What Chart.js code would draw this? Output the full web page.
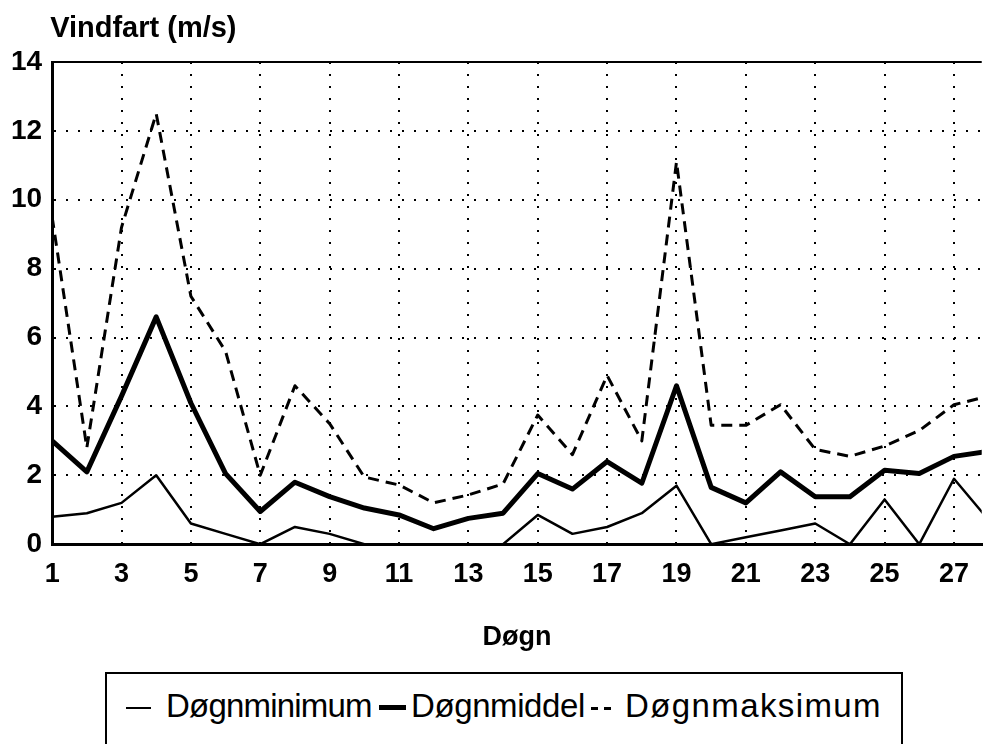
<!DOCTYPE html>
<html>
<head>
<meta charset="utf-8">
<script src="https://cdn.jsdelivr.net/npm/chart.js@4/dist/chart.umd.min.js"></script>
<style>
  body { margin: 0; background: #fff; width: 983px; height: 744px; overflow: hidden; position: relative; }
  #wrap { position: absolute; left: 0; top: 0; width: 983px; height: 660px; }
  #legend {
    position: absolute; left: 105px; top: 672px; width: 798px; height: 100px;
    border: 2px solid #000; box-sizing: border-box;
    font-family: "Liberation Sans", Arial, sans-serif; font-size: 33px; color: #000;
  }
  #legend .txt { position: absolute; top: 13px; white-space: nowrap; }
  #legend .sw { position: absolute; top: 33px; }
</style>
</head>
<body>
<div id="wrap"><canvas id="chart" width="983" height="660"></canvas></div>
<div id="legend">
  <span class="sw" style="left:19px;width:25px;border-top:2px solid #000"></span>
  <span class="txt" style="left:59px;letter-spacing:-0.8px">Døgnminimum</span>
  <span class="sw" style="left:272px;width:27px;border-top:5px solid #000;top:31px"></span>
  <span class="txt" style="left:304px;letter-spacing:-0.4px">Døgnmiddel</span>
  <span class="sw" style="left:484px;width:7px;border-top:3px solid #000"></span>
  <span class="sw" style="left:497px;width:7px;border-top:3px solid #000"></span>
  <span class="txt" style="left:518px;letter-spacing:1.4px">Døgnmaksimum</span>
</div>
<script>
// Vindfart per døgn
const days = [1,2,3,4,5,6,7,8,9,10,11,12,13,14,15,16,17,18,19,20,21,22,23,24,25,26,27,28];
const minimum = [0.8,0.9,1.2,2.0,0.6,0.3,0,0.5,0.3,0,0,0,0,0,0.85,0.3,0.5,0.9,1.7,0,0.2,0.4,0.6,0,1.3,0,1.9,0.7];
const middel = [3.0,2.1,4.3,6.6,4.1,2.05,0.95,1.8,1.38,1.05,0.85,0.45,0.75,0.9,2.05,1.6,2.4,1.77,4.6,1.65,1.2,2.1,1.38,1.38,2.15,2.05,2.55,2.7];
const maksimum = [9.5,2.8,9.2,12.5,7.2,5.6,2.0,4.6,3.5,1.95,1.72,1.2,1.43,1.75,3.75,2.6,4.9,3.0,11.1,3.45,3.45,4.05,2.75,2.55,2.85,3.3,4.05,4.3];
const yTicks = [0,2,4,6,8,10,12,14];

const toPoints = vals => days.map((d, i) => ({ x: d, y: vals[i] }));

const frame = {
  id: 'frame',
  afterDraw(chart) {
    const { ctx, chartArea } = chart;
    ctx.save();
    ctx.strokeStyle = '#000';
    ctx.lineWidth = 2;
    ctx.beginPath();
    ctx.moveTo(chartArea.left, chartArea.top);
    ctx.lineTo(chartArea.right, chartArea.top);
    ctx.stroke();
    ctx.fillStyle = '#000';
    ctx.font = 'bold 29px "Liberation Sans", Arial, sans-serif';
    ctx.textBaseline = 'alphabetic';
    ctx.fillText('Vindfart (m/s)', chartArea.left - 2, 37);
    ctx.restore();
  }
};

const tickFont = { family: '"Liberation Sans", Arial, sans-serif', size: 27, weight: 'bold' };

new Chart(document.getElementById('chart').getContext('2d'), {
  type: 'line',
  data: {
    datasets: [
      { label: 'Døgnminimum', data: toPoints(minimum), borderColor: '#000', borderWidth: 2.5 },
      { label: 'Døgnmiddel', data: toPoints(middel), borderColor: '#000', borderWidth: 5 },
      { label: 'Døgnmaksimum', data: toPoints(maksimum), borderColor: '#000', borderWidth: 3, borderDash: [11, 7] }
    ]
  },
  options: {
    responsive: false,
    animation: false,
    layout: { padding: { top: 62, left: 1, right: 0, bottom: 6 } },
    elements: { point: { radius: 0 }, line: { tension: 0, borderJoinStyle: 'round' } },
    plugins: { legend: { display: false }, tooltip: { enabled: false } },
    scales: {
      x: {
        type: 'linear',
        min: 1,
        max: 27.8,
        afterBuildTicks: scale => {
          scale.ticks = days.filter(d => d % 2 === 1).map(d => ({ value: d }));
        },
        ticks: { stepSize: 2, color: '#000', font: tickFont, padding: 14, maxRotation: 0 },
        grid: { color: '#000', lineWidth: 2, drawTicks: false },
        border: { color: '#000', width: 3, dash: [2, 10] },
        title: { display: true, text: 'Døgn', color: '#000', font: tickFont, padding: { top: 17, bottom: 0 } }
      },
      y: {
        min: 0,
        max: 14,
        afterBuildTicks: scale => {
          scale.ticks = yTicks.map(v => ({ value: v }));
        },
        ticks: { color: '#000', font: { ...tickFont, size: 28 }, padding: 10 },
        grid: { color: '#000', lineWidth: 2, drawTicks: false },
        border: { color: '#000', width: 3, dash: [2, 10] }
      }
    }
  },
  plugins: [frame]
});
</script>
</body>
</html>
